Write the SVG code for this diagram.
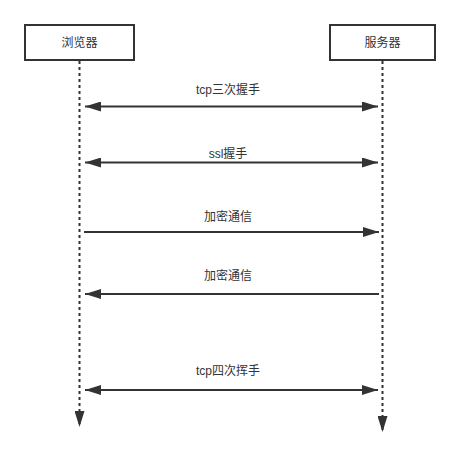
<svg xmlns="http://www.w3.org/2000/svg" width="460" height="457" viewBox="0 0 460 457">
<style>
.box{fill:#fff;stroke:#333;stroke-width:2}
.life{stroke:#333;stroke-width:2;stroke-dasharray:3 3;fill:none}
.msg{stroke:#333;stroke-width:2;fill:none}
.lbl{font-family:"Liberation Sans","Noto Sans CJK SC",sans-serif;font-size:12px;fill:#333;text-anchor:middle}
</style>
<defs>
<marker id="ah" viewBox="0 0 16 10" refX="16" refY="5" markerWidth="16" markerHeight="10" markerUnits="userSpaceOnUse" orient="auto-start-reverse">
<path d="M0,0 L16,5 L0,10 Z" fill="#333"/>
</marker>
</defs>
<rect width="460" height="457" fill="#fff"/>
<g id="connectors">
<line class="life" x1="79.5" y1="61" x2="79.5" y2="427" marker-end="url(#ah)"/>
<line class="life" x1="382.5" y1="61" x2="382.5" y2="432" marker-end="url(#ah)"/>
<line class="msg" x1="85" y1="106.5" x2="378" y2="106.5" marker-start="url(#ah)" marker-end="url(#ah)"/>
<line class="msg" x1="85" y1="162.5" x2="378" y2="162.5" marker-start="url(#ah)" marker-end="url(#ah)"/>
<line class="msg" x1="84" y1="232" x2="379" y2="232" marker-end="url(#ah)"/>
<line class="msg" x1="379" y1="294" x2="85" y2="294" marker-end="url(#ah)"/>
<line class="msg" x1="85" y1="390" x2="378" y2="390" marker-start="url(#ah)" marker-end="url(#ah)"/>
<text class="lbl" x="228" y="94">tcp三次握手</text>
<text class="lbl" x="228" y="158">ssl握手</text>
<text class="lbl" x="228" y="221">加密通信</text>
<text class="lbl" x="228" y="280">加密通信</text>
<text class="lbl" x="228" y="375">tcp四次挥手</text>
</g>
<g id="browser">
<rect class="box" x="25" y="25" width="109" height="35"/>
<text class="lbl" x="79.5" y="47">浏览器</text>
</g>
<g id="server">
<rect class="box" x="330" y="25" width="105" height="35"/>
<text class="lbl" x="382.5" y="47">服务器</text>
</g>
</svg>
